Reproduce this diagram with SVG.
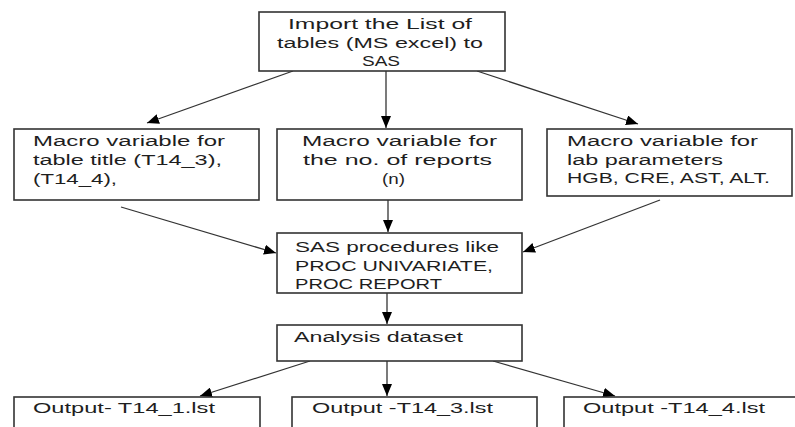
<svg xmlns="http://www.w3.org/2000/svg" width="795" height="427" viewBox="0 0 795 427">
<defs>
<marker id="ah" markerUnits="userSpaceOnUse" markerWidth="12" markerHeight="10" viewBox="0 0 12 10" refX="12" refY="5" orient="auto">
<path d="M0,0 L12,5 L0,10 Z" fill="#000"/>
</marker>
<style>
.box{fill:#fff;stroke:#333;stroke-width:1.6}
.t{font-family:"Liberation Sans",Arial,sans-serif;font-size:15.5px;fill:#1e1e1e}
.c{fill:none;stroke:#333;stroke-width:1.3;marker-end:url(#ah)}
</style>
</defs>
<rect width="795" height="427" fill="#fff"/>
<g id="connectors">
<line class="c" x1="293" y1="71" x2="147" y2="123"/>
<line class="c" x1="386" y1="71" x2="386" y2="128"/>
<line class="c" x1="477" y1="71" x2="638" y2="124"/>
<line class="c" x1="121" y1="207" x2="276" y2="253"/>
<line class="c" x1="388" y1="200" x2="388" y2="232"/>
<line class="c" x1="660" y1="200" x2="523" y2="252"/>
<line class="c" x1="387" y1="293" x2="387" y2="324"/>
<line class="c" x1="310" y1="361" x2="200" y2="396"/>
<line class="c" x1="387" y1="361" x2="387" y2="396"/>
<line class="c" x1="493" y1="361" x2="615" y2="396"/>
</g>
<g id="import">
<rect class="box" x="259" y="12" width="246" height="59"/>
<text class="t" x="288" y="29" textLength="184" lengthAdjust="spacingAndGlyphs">Import the List of</text>
<text class="t" x="277" y="48" textLength="206" lengthAdjust="spacingAndGlyphs">tables (MS excel) to</text>
<text class="t" x="362" y="66" textLength="38" lengthAdjust="spacingAndGlyphs">SAS</text>
</g>
<g id="macro-title">
<rect class="box" x="14" y="129" width="245" height="71"/>
<text class="t" x="33" y="146" textLength="192" lengthAdjust="spacingAndGlyphs">Macro variable for</text>
<text class="t" x="33" y="165" textLength="189" lengthAdjust="spacingAndGlyphs">table title (T14_3),</text>
<text class="t" x="33" y="184" textLength="84" lengthAdjust="spacingAndGlyphs">(T14_4),</text>
</g>
<g id="macro-n">
<rect class="box" x="277" y="129" width="245" height="71"/>
<text class="t" x="302" y="146" textLength="195" lengthAdjust="spacingAndGlyphs">Macro variable for</text>
<text class="t" x="303" y="165" textLength="189" lengthAdjust="spacingAndGlyphs">the no. of reports</text>
<text class="t" x="382" y="184" textLength="23" lengthAdjust="spacingAndGlyphs">(n)</text>
</g>
<g id="macro-lab">
<rect class="box" x="547" y="129" width="245" height="67"/>
<text class="t" x="567" y="146" textLength="191" lengthAdjust="spacingAndGlyphs">Macro variable for</text>
<text class="t" x="567" y="165" textLength="156" lengthAdjust="spacingAndGlyphs">lab parameters</text>
<text class="t" x="567" y="183" textLength="203" lengthAdjust="spacingAndGlyphs">HGB, CRE, AST, ALT.</text>
</g>
<g id="sas-procs">
<rect class="box" x="277" y="233" width="245" height="60"/>
<text class="t" x="295" y="252" textLength="204" lengthAdjust="spacingAndGlyphs">SAS procedures like</text>
<text class="t" x="295" y="271" textLength="198" lengthAdjust="spacingAndGlyphs">PROC UNIVARIATE,</text>
<text class="t" x="295" y="289" textLength="147" lengthAdjust="spacingAndGlyphs">PROC REPORT</text>
</g>
<g id="analysis">
<rect class="box" x="277" y="325" width="245" height="36"/>
<text class="t" x="294" y="342" textLength="169" lengthAdjust="spacingAndGlyphs">Analysis dataset</text>
</g>
<g id="out1">
<rect class="box" x="14" y="397" width="246" height="45"/>
<text class="t" x="33" y="413" textLength="182" lengthAdjust="spacingAndGlyphs">Output- T14_1.lst</text>
</g>
<g id="out3">
<rect class="box" x="292" y="397" width="245" height="45"/>
<text class="t" x="312" y="413" textLength="181" lengthAdjust="spacingAndGlyphs">Output -T14_3.lst</text>
</g>
<g id="out4">
<rect class="box" x="564" y="397" width="245" height="45"/>
<text class="t" x="583" y="413" textLength="182" lengthAdjust="spacingAndGlyphs">Output -T14_4.lst</text>
</g>
</svg>
